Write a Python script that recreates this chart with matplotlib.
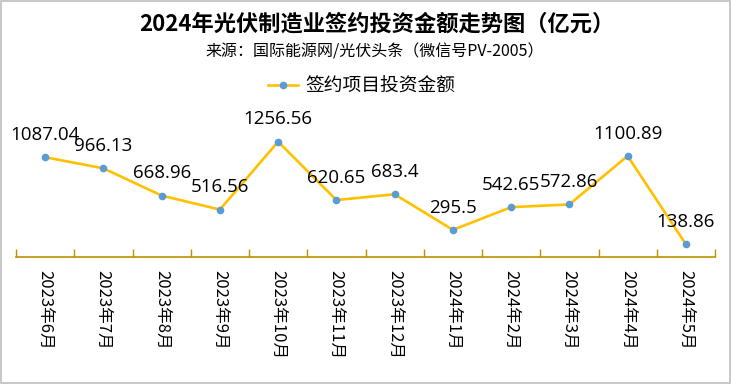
import numpy as np
import matplotlib.pyplot as plt
from matplotlib.patches import Rectangle

plt.rcParams['font.family'] = ['Noto Sans CJK SC', 'DejaVu Sans']

# data
months = ['2023年6月', '2023年7月', '2023年8月', '2023年9月', '2023年10月', '2023年11月',
          '2023年12月', '2024年1月', '2024年2月', '2024年3月', '2024年4月', '2024年5月']
amounts = [1087.04, 966.13, 668.96, 516.56, 1256.56, 620.65,
           683.4, 295.5, 542.65, 572.86, 1100.89, 138.86]
labels = ['1087.04', '966.13', '668.96', '516.56', '1256.56', '620.65',
          '683.4', '295.5', '542.65', '572.86', '1100.89', '138.86']

fig = plt.figure(figsize=(7.31, 3.84), dpi=100)
ax = fig.add_axes([16/731, 1 - 257/384, (715 - 16)/731, (257 - 128.5)/384])

x = np.arange(len(months))
ax.plot(x, amounts, color='#FFC000', linewidth=1.9, marker='o', markersize=4.5,
        markerfacecolor='#5B9BD5', markeredgecolor='#5B9BD5', label='签约项目投资金额',
        clip_on=False, zorder=3)

# value labels, ~22px above each point
for xi, yi, txt in zip(x, amounts, labels):
    ax.annotate(txt, (xi, yi), xytext=(0, 16), textcoords='offset points',
                ha='center', va='center', fontsize=13.5, family=['Open Sans', 'DejaVu Sans'],
                color='black', annotation_clip=False)

ax.set_xlim(-0.5, len(months) - 0.5)
ax.set_ylim(0, 1400)
ax.set_xticks(x)
ax.set_xticklabels(months, rotation=270, fontsize=12, va='top', ha='center')
ax.set_xticks(np.arange(-0.5, len(months)), minor=True)
ax.tick_params(axis='x', which='major', length=0, pad=9)
ax.tick_params(axis='x', which='minor', direction='in', length=6, color='#BF9000', width=1)
ax.set_yticks([])
for s in ['top', 'right', 'left']:
    ax.spines[s].set_visible(False)
ax.spines['bottom'].set_color('#BF9000')
ax.spines['bottom'].set_linewidth(1.2)

fig.text(377/731, 1 - 24/384, '2024年光伏制造业签约投资金额走势图（亿元）', ha='center', va='center',
         fontsize=16, fontweight='bold')
fig.text(375/731, 1 - 52/384, '来源：国际能源网/光伏头条（微信号PV-2005）', ha='center', va='center',
         fontsize=11.5)
ax.legend(loc='center', bbox_to_anchor=(362/731, 1 - 86/384), bbox_transform=fig.transFigure,
          frameon=False, fontsize=13.5, handlelength=1.6, handletextpad=0.4)

fig.add_artist(Rectangle((0.001, 0.002), 0.997, 0.995, transform=fig.transFigure,
                         fill=False, edgecolor='#BFBFBF', linewidth=1.2))

fig.savefig('out.png', dpi=100)
